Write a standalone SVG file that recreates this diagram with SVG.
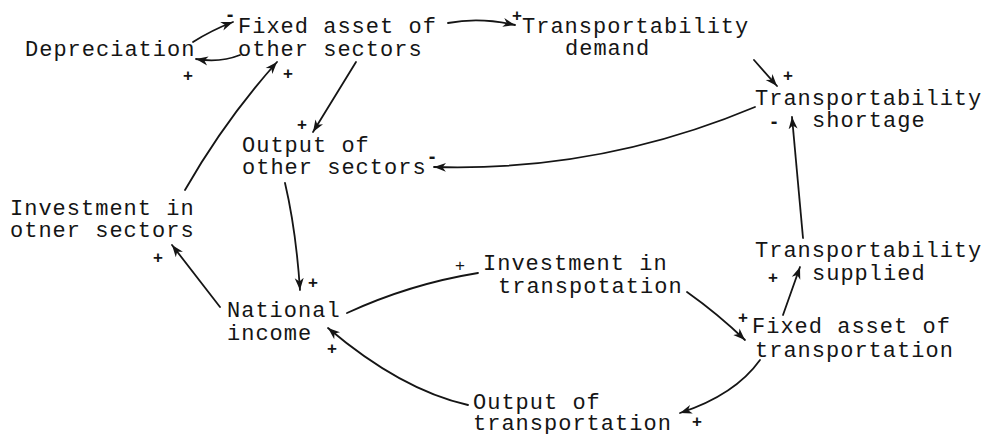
<svg xmlns="http://www.w3.org/2000/svg" width="986" height="434" viewBox="0 0 986 434">
  <style>
    .lbl { font-family: "Liberation Mono", "DejaVu Sans Mono", monospace; font-size: 22px; letter-spacing: 1px; fill: #151515; }
    .sign { font-family: "Liberation Sans", "DejaVu Sans", sans-serif; font-size: 17px; font-weight: bold; fill: #151515; text-anchor: middle; dominant-baseline: central; }
    .minus { font-size: 20px; }
    .link { fill: none; stroke: #151515; stroke-width: 1.8; stroke-linecap: round; }
    .arr { marker-end: url(#head); }
  </style>
  <defs>
    <marker id="head" markerUnits="userSpaceOnUse" markerWidth="14" markerHeight="10" refX="12" refY="5" orient="auto">
      <path d="M0,0.5 L12,5 L0,9.5 L3.5,5 z" fill="#151515"/>
    </marker>
  </defs>
  <rect width="986" height="434" fill="#ffffff"/>

  <!-- nodes -->
  <g id="depreciation">
    <text class="lbl" x="25" y="56">Depreciation</text>
  </g>
  <g id="fixed-asset-other">
    <text class="lbl" x="238" y="33">Fixed asset of</text>
    <text class="lbl" x="238" y="56">other sectors</text>
  </g>
  <g id="transport-demand">
    <text class="lbl" x="522" y="33">Transportability</text>
    <text class="lbl" x="565" y="55">demand</text>
  </g>
  <g id="transport-shortage">
    <text class="lbl" x="755" y="105">Transportability</text>
    <text class="lbl" x="812" y="127">shortage</text>
  </g>
  <g id="output-other">
    <text class="lbl" x="242" y="152">Output of</text>
    <text class="lbl" x="242" y="174">other sectors</text>
  </g>
  <g id="investment-other">
    <text class="lbl" x="10" y="215">Investment in</text>
    <text class="lbl" x="10" y="237">otner sectors</text>
  </g>
  <g id="national-income">
    <text class="lbl" x="227" y="317">National</text>
    <text class="lbl" x="227" y="340">income</text>
  </g>
  <g id="investment-transport">
    <text class="lbl" x="483" y="270">Investment in</text>
    <text class="lbl" x="498" y="293">transpotation</text>
  </g>
  <g id="transport-supplied">
    <text class="lbl" x="755" y="257">Transportability</text>
    <text class="lbl" x="812" y="280">supplied</text>
  </g>
  <g id="fixed-asset-transport">
    <text class="lbl" x="752" y="333">Fixed asset of</text>
    <text class="lbl" x="755" y="357">transportation</text>
  </g>
  <g id="output-transport">
    <text class="lbl" x="473" y="409">Output of</text>
    <text class="lbl" x="473" y="430">transportation</text>
  </g>

  <!-- causal links -->
  <g id="connectors">
    <path class="link arr" d="M193,42 Q212,30 233,22"/>
    <path class="link arr" d="M240,55 Q220,63 196,59"/>
    <path class="link arr" d="M448,23 Q480,17 515,25"/>
    <path class="link arr" d="M356,62 L313,132"/>
    <path class="link arr" d="M185,190 Q225,120 277,62"/>
    <path class="link arr" d="M754,60 L777,86"/>
    <path class="link arr" d="M755,107 Q600,172 434,167"/>
    <path class="link arr" d="M285,183 Q296,230 300,290"/>
    <path class="link arr" d="M220,307 L172,245"/>
    <path class="link" d="M347,313 Q410,284 478,273"/>
    <path class="link arr" d="M468,405 Q401,390 328,328"/>
    <path class="link arr" d="M687,292 Q718,314 745,340"/>
    <path class="link arr" d="M783,315 L800,267"/>
    <path class="link arr" d="M803,238 L792,117"/>
    <path class="link arr" d="M760,360 Q735,395 680,413"/>
  </g>

  <!-- link polarities -->
  <g id="polarities">
    <text class="sign" x="188" y="75">+</text>
    <text class="sign minus" x="230" y="14">-</text>
    <text class="sign" x="288" y="73">+</text>
    <text class="sign" x="517" y="15">+</text>
    <text class="sign" x="788" y="75">+</text>
    <text class="sign minus" x="774" y="121">-</text>
    <text class="sign" x="302" y="124">+</text>
    <text class="sign minus" x="432" y="156">-</text>
    <text class="sign" x="158" y="257">+</text>
    <text class="sign" x="313" y="282">+</text>
    <text class="sign" x="332" y="348">+</text>
    <text class="sign" x="460" y="265" style="font-weight:normal">+</text>
    <text class="sign" x="773" y="277">+</text>
    <text class="sign" x="743" y="317">+</text>
    <text class="sign" x="697" y="421">+</text>
  </g>
</svg>
